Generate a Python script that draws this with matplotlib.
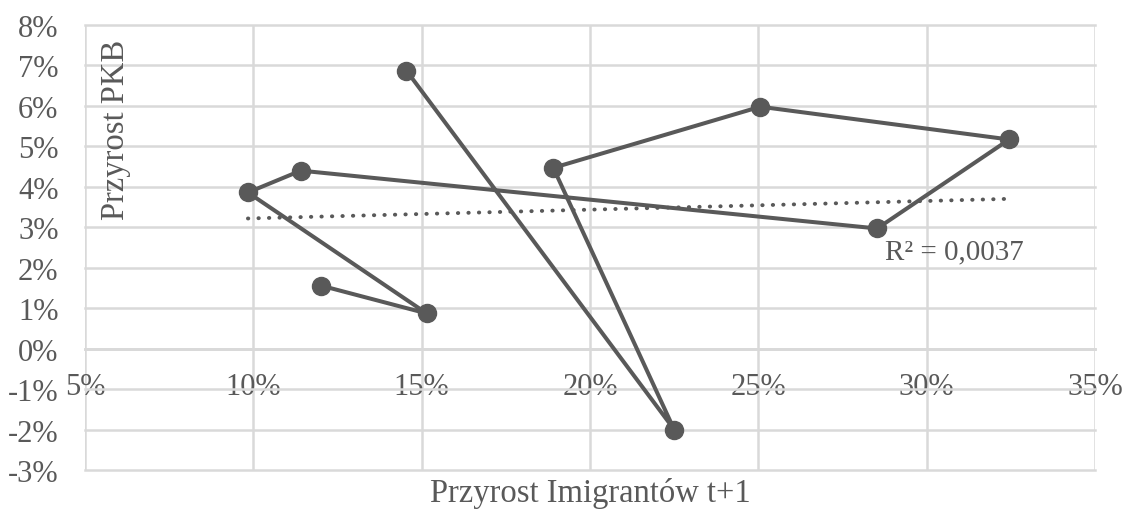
import numpy as np
import matplotlib.pyplot as plt
from matplotlib.ticker import FuncFormatter, MultipleLocator

plt.rcParams['font.family'] = ['Liberation Serif', 'DejaVu Serif']

# przyrost imigrantow t+1 (%) i przyrost PKB (%) - kolejnosc wg linii
imigranci = [12.0, 15.15, 9.84, 11.41, 28.53, 32.45, 25.06, 18.91, 22.5, 14.55]
pkb = [1.56, 0.87, 3.86, 4.40, 2.97, 5.17, 5.98, 4.47, -2.0, 6.87]
r2_etykieta = 'R² = 0,0037'

szary = '#595959'
siatka = '#d9d9d9'

fig = plt.figure(figsize=(11.27, 5.10), dpi=100)
ax = fig.add_axes([0.0754, 0.0765, 0.8962, 0.8725])

x = np.array(imigranci)
y = np.array(pkb)

ax.plot(x, y, color=szary, lw=2.9, marker='o', ms=13, zorder=3)

# linia trendu
a, b = np.polyfit(x, y, 1)
xt = np.array([x.min(), x.max()])
ax.plot(xt, a * xt + b, color=szary, lw=2.8, linestyle=(0, (0.1, 2.6)),
        dash_capstyle='round', zorder=2)
ax.text(0.861, 0.492, r2_etykieta, transform=ax.transAxes,
        ha='center', va='center', fontsize=21, color=szary)

ax.set_xlim(5, 35)
ax.set_ylim(-3, 8)
ax.xaxis.set_major_locator(MultipleLocator(5))
ax.yaxis.set_major_locator(MultipleLocator(1))
ax.xaxis.set_major_formatter(FuncFormatter(lambda v, p: '%d%%' % v))
ax.yaxis.set_major_formatter(FuncFormatter(lambda v, p: '%d%%' % v))

ax.grid(True, color=siatka, lw=1.8)
for l in ax.get_xgridlines() + ax.get_ygridlines():
    l.set_clip_on(False)
ax.set_axisbelow(True)

for s in ['top', 'right', 'left']:
    ax.spines[s].set_visible(False)
ax.spines['bottom'].set_position(('data', 0))
ax.spines['bottom'].set_color(siatka)
ax.spines['bottom'].set_linewidth(2.0)

ax.tick_params(axis='both', length=0, labelsize=22, colors=szary)
ax.tick_params(axis='x', pad=17)
ax.tick_params(axis='y', pad=19)

ax.set_xlabel('Przyrost Imigrantów t+1', fontsize=23.5, color=szary)
ax.xaxis.set_label_coords(0.5, -0.015)
ax.xaxis.label.set_verticalalignment('top')
ax.set_ylabel('Przyrost PKB', fontsize=23.5, color=szary)
ax.yaxis.set_label_coords(0.03, 0.766)
ax.yaxis.label.set_verticalalignment('center')

fig.savefig('out.png', dpi=100)
